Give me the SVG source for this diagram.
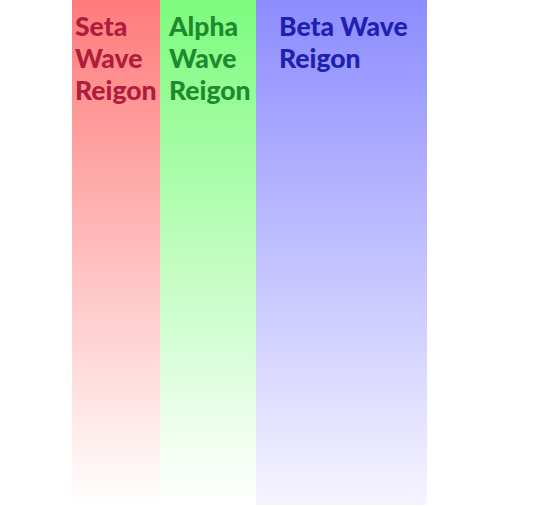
<svg xmlns="http://www.w3.org/2000/svg" width="540" height="506" viewBox="0 0 540 506">
<defs>
<linearGradient id="gr" x1="0" y1="0" x2="0" y2="1"><stop offset="0" stop-color="#ff7b7b"/><stop offset="1" stop-color="#ffffff"/></linearGradient>
<linearGradient id="gg" x1="0" y1="0" x2="0" y2="1"><stop offset="0" stop-color="#7dfb7d"/><stop offset="1" stop-color="#ffffff"/></linearGradient>
<linearGradient id="gb" x1="0" y1="0" x2="0" y2="1"><stop offset="0" stop-color="#8c8cff"/><stop offset="1" stop-color="#f6f4ff"/></linearGradient>
<style>
.t{font-family:"Lato","Open Sans","Liberation Sans",sans-serif;font-weight:900;font-size:26.5px}
</style>
</defs>
<rect width="540" height="506" fill="#ffffff"/>
<g id="seta">
<rect x="72" y="0" width="88" height="506" fill="url(#gr)"/>
<text class="t" fill="#b01c3c"><tspan x="75" y="36">Seta</tspan><tspan x="75" y="68">Wave</tspan><tspan x="75" y="100">Reigon</tspan></text>
</g>
<g id="alpha">
<rect x="160" y="0" width="96" height="500" fill="url(#gg)"/>
<text class="t" fill="#1e8a2e"><tspan x="169" y="36">Alpha</tspan><tspan x="169" y="68">Wave</tspan><tspan x="169" y="100">Reigon</tspan></text>
</g>
<g id="beta">
<rect x="256" y="0" width="171" height="505" fill="url(#gb)"/>
<text class="t" fill="#2020b0"><tspan x="279" y="36">Beta Wave</tspan><tspan x="279" y="68">Reigon</tspan></text>
</g>
<g id="connectors"/>
</svg>
